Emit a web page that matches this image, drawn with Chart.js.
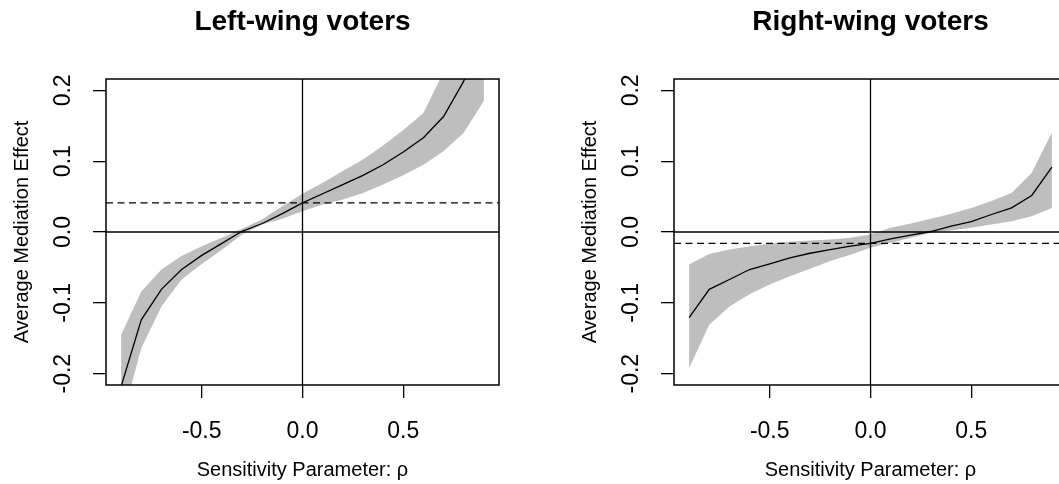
<!DOCTYPE html>
<html><head><meta charset="utf-8">
<script src="https://cdn.jsdelivr.net/npm/chart.js@4"></script>
<style>
html,body{margin:0;padding:0;background:#fff;overflow:hidden;width:1059px;height:484px;position:relative}
canvas{position:absolute;top:0}
#c1{left:0}
#c2{left:568px}
</style></head><body>
<canvas id="c1" width="568" height="484"></canvas>
<canvas id="c2" width="568" height="484"></canvas>
<script>
// Sensitivity parameter values (x)
const rho = [-0.9, -0.8, -0.7, -0.6, -0.5, -0.4, -0.3, -0.2, -0.1, 0.0, 0.1, 0.2, 0.3, 0.4, 0.5, 0.6, 0.7, 0.8, 0.9];

// Left-wing voters
const leftEst   = [-0.218, -0.124, -0.081, -0.053, -0.033, -0.016, 0.001, 0.012, 0.026, 0.041, 0.054, 0.067, 0.080, 0.095, 0.113, 0.133, 0.163, 0.213, 0.29];
const leftUpper = [-0.145, -0.084, -0.053, -0.034, -0.020, -0.008, 0.0045, 0.018, 0.0365, 0.054, 0.0695, 0.086, 0.1025, 0.122, 0.144, 0.168, 0.226, 0.30, 0.40];
const leftLower = [-0.27, -0.164, -0.105, -0.067, -0.045, -0.025, -0.0035, 0.0106, 0.0186, 0.0294, 0.039, 0.046, 0.055, 0.067, 0.080, 0.095, 0.114, 0.140, 0.185];
const leftAcme = 0.041;

// Right-wing voters
const rightEst   = [-0.121, -0.081, -0.067, -0.053, -0.045, -0.0365, -0.030, -0.025, -0.020, -0.016, -0.0096, -0.0045, 0.0007, 0.0082, 0.0148, 0.0247, 0.034, 0.0516, 0.0916];
const rightUpper = [-0.046, -0.031, -0.0247, -0.020, -0.0167, -0.0139, -0.012, -0.0106, -0.0082, -0.0035, 0.006, 0.012, 0.0186, 0.0257, 0.034, 0.0436, 0.055, 0.0836, 0.140];
const rightLower = [-0.192, -0.131, -0.105, -0.088, -0.074, -0.0624, -0.052, -0.041, -0.032, -0.0224, -0.0153, -0.0082, -0.0012, 0.002, 0.006, 0.0106, 0.0153, 0.0224, 0.034];
const rightAcme = -0.016;

// Ticks
const xTicks = [-0.5, 0.0, 0.5];
const yTicks = [-0.2, -0.1, 0.0, 0.1, 0.2];

const FAM = "'Liberation Sans', Arial, Helvetica, sans-serif";

function pts(vals) { return rho.map((r, i) => ({x: r, y: vals[i]})); }

function refPlugin(acme) {
  return {
    id: 'refLines',
    afterDatasetsDraw(chart) {
      const {ctx, chartArea: a, scales: {x, y}} = chart;
      ctx.save();
      ctx.beginPath();
      ctx.rect(a.left, a.top, a.right - a.left, a.bottom - a.top);
      ctx.clip();
      ctx.strokeStyle = '#000';
      ctx.lineWidth = 1.3;
      const x0 = x.getPixelForValue(0), y0 = y.getPixelForValue(0), ya = y.getPixelForValue(acme);
      ctx.beginPath(); ctx.moveTo(x0, a.top); ctx.lineTo(x0, a.bottom); ctx.stroke();
      ctx.beginPath(); ctx.moveTo(a.left, y0); ctx.lineTo(a.right, y0); ctx.stroke();
      ctx.setLineDash([7, 4.5]);
      ctx.beginPath(); ctx.moveTo(a.left, ya); ctx.lineTo(a.right, ya); ctx.stroke();
      ctx.restore();
      ctx.save();
      ctx.strokeStyle = '#000';
      ctx.lineWidth = 1.5;
      ctx.strokeRect(a.left, a.top, a.right - a.left, a.bottom - a.top);
      ctx.restore();
    }
  };
}

function makePanel(id, title, est, upper, lower, acme) {
  new Chart(document.getElementById(id), {
    type: 'line',
    data: {
      datasets: [
        {data: pts(upper), order: 2, fill: '+1', backgroundColor: '#bebebe', borderWidth: 0, borderColor: 'rgba(0,0,0,0)', pointRadius: 0, tension: 0},
        {data: pts(lower), order: 3, fill: false, borderWidth: 0, borderColor: 'rgba(0,0,0,0)', pointRadius: 0, tension: 0},
        {data: pts(est), order: 0, fill: false, borderWidth: 1.3, borderColor: '#000', pointRadius: 0, tension: 0}
      ]
    },
    options: {
      responsive: false,
      animation: false,
      devicePixelRatio: 1,
      events: [],
      layout: {padding: {left: 0, right: 69, top: 0, bottom: 0}},
      plugins: {
        legend: {display: false},
        tooltip: {enabled: false},
        title: {display: true, text: title, fullSize: false, color: '#000',
                font: {size: 28, weight: 'bold', family: FAM, lineHeight: 1.2},
                padding: {top: 5, bottom: 40.4}}
      },
      scales: {
        x: {
          type: 'linear', min: -0.975, max: 0.975,
          afterBuildTicks: s => { s.ticks = xTicks.map(v => ({value: v})); },
          afterFit: s => { s.height = 99; },
          ticks: {autoSkip: false, minRotation: 0, maxRotation: 0, padding: 20, color: '#000',
                  font: {size: 23, family: FAM}, callback: v => Number(v).toFixed(1)},
          grid: {drawOnChartArea: false, drawTicks: true, tickLength: 13, color: '#000', lineWidth: 1.3},
          border: {display: false},
          title: {display: true, text: 'Sensitivity Parameter: ρ', color: '#000',
                  font: {size: 20, family: FAM, lineHeight: 1.2}, padding: {top: 0, bottom: 2}}
        },
        y: {
          type: 'linear', min: -0.216, max: 0.216,
          afterBuildTicks: s => { s.ticks = yTicks.map(v => ({value: v})); },
          afterFit: s => { s.width = 106; },
          ticks: {autoSkip: false, minRotation: 90, maxRotation: 90, crossAlign: 'center', padding: 10, color: '#000',
                  font: {size: 23, family: FAM}, callback: v => Number(v).toFixed(1)},
          grid: {drawOnChartArea: false, drawTicks: true, tickLength: 13, color: '#000', lineWidth: 1.3},
          border: {display: false},
          title: {display: true, text: 'Average Mediation Effect', color: '#000',
                  font: {size: 20, family: FAM, lineHeight: 1.2}, padding: {top: 10, bottom: 0}}
        }
      }
    },
    plugins: [refPlugin(acme)]
  });
}

makePanel('c1', 'Left-wing voters', leftEst, leftUpper, leftLower, leftAcme);
makePanel('c2', 'Right-wing voters', rightEst, rightUpper, rightLower, rightAcme);
</script>
</body></html>
